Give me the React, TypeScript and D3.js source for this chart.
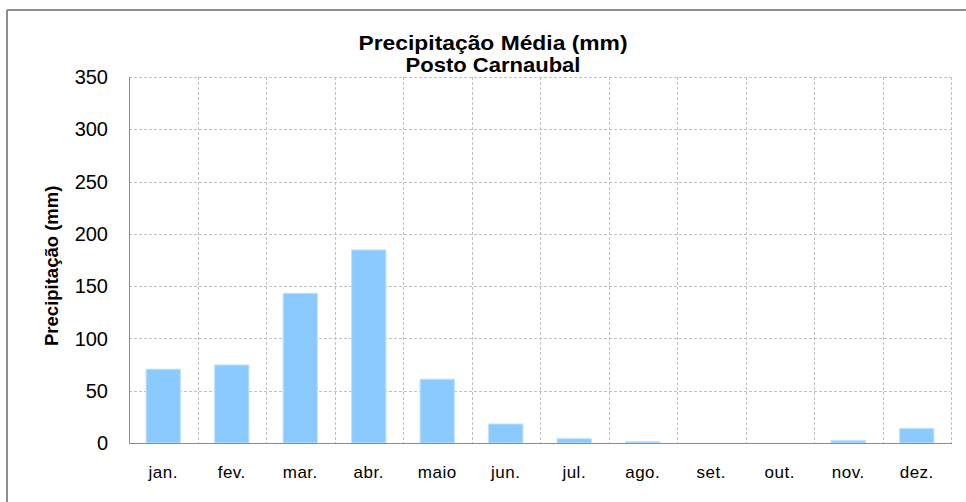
import React from "react";
import * as d3 from "d3";

const months = ["jan.", "fev.", "mar.", "abr.", "maio", "jun.", "jul.", "ago.", "set.", "out.", "nov.", "dez."];
const precipitation = [70.5, 74.6, 143.1, 184.6, 61, 18.2, 4.1, 1.2, 0, 0, 2.2, 14];
const yTicks = [0, 50, 100, 150, 200, 250, 300, 350];
const titleLines = ["Precipitação Média (mm)", "Posto Carnaubal"];
const titleWidths = [269, 175];
const yTitle = "Precipitação (mm)";

const W = 966;
const H = 502;
const M = { left: 129, right: 951, top: 77, bottom: 443 };
const FONT = "'Liberation Sans', Arial, sans-serif";

export default function App() {
  const x = d3.scaleBand<string>().domain(months).range([M.left, M.right]).paddingInner(0.5).paddingOuter(0.25);
  const y = d3.scaleLinear().domain([0, 350]).range([M.bottom, M.top]);
  const step = x.step();
  const gridX = months.map((_, i) => M.left + step * (i + 1));

  return (
    <svg width={W} height={H} style={{ position: "absolute", left: 0, top: 0, background: "#fff" }}>
      <rect x={0} y={0} width={W} height={H} fill="#fff" />
      {/* outer border */}
      <line x1={7} y1={10} x2={W} y2={10} stroke="#8c8c8c" strokeWidth={2} />
      <line x1={7} y1={10} x2={7} y2={H} stroke="#8c8c8c" strokeWidth={2} />

      {/* horizontal grid */}
      {yTicks.filter((t) => t > 0).map((t) => (
        <line key={"h" + t} x1={M.left} x2={M.right} y1={Math.round(y(t)) + 0.5} y2={Math.round(y(t)) + 0.5}
          stroke="#c0c0c0" strokeWidth={1} strokeDasharray="3,2" />
      ))}
      {/* vertical grid */}
      {gridX.map((gx, i) => (
        <line key={"v" + i} x1={Math.round(gx) + 0.5} x2={Math.round(gx) + 0.5} y1={M.top} y2={M.bottom}
          stroke="#c0c0c0" strokeWidth={1} strokeDasharray="3,2" />
      ))}

      {/* bars */}
      {months.map((m, i) => {
        const v = precipitation[i];
        if (v <= 0) return null;
        const top = y(v);
        return (
          <rect key={m} x={x(m)!} y={top} width={x.bandwidth()} height={y(0) - top}
            fill="#8BCAFF" stroke="#BDE0FF" strokeWidth={1} />
        );
      })}

      {/* axes */}
      <line x1={M.left + 0.5} x2={M.left + 0.5} y1={M.top} y2={M.bottom + 0.5} stroke="#8c8c8c" strokeWidth={1} />
      <line x1={M.left} x2={M.right + 1} y1={M.bottom + 0.5} y2={M.bottom + 0.5} stroke="#8c8c8c" strokeWidth={1} />

      {/* y tick labels */}
      {yTicks.map((t) => (
        <text key={"yt" + t} x={108} y={y(t)} dy="0.36em" textAnchor="end" fontFamily={FONT} fontSize={20} fill="#000">
          {t}
        </text>
      ))}

      {/* x labels */}
      {months.map((m) => (
        <text key={"xl" + m} x={x(m)! + x.bandwidth() / 2} y={478} textAnchor="middle" fontFamily={FONT} fontSize={17} letterSpacing={0.5} fill="#000">
          {m}
        </text>
      ))}

      {/* title */}
      {titleLines.map((t, i) => (
        <text key={"t" + i} x={493} y={49.5 + i * 22.5} textAnchor="middle" fontFamily={FONT} fontSize={21} fontWeight="bold" fill="#000"
          textLength={titleWidths[i]} lengthAdjust="spacingAndGlyphs">
          {t}
        </text>
      ))}

      {/* y title */}
      <text transform={`translate(57.5,${265.8}) rotate(-90)`} textAnchor="middle" fontFamily={FONT} fontSize={18.5} fontWeight="bold" fill="#000">
        {yTitle}
      </text>
    </svg>
  );
}
